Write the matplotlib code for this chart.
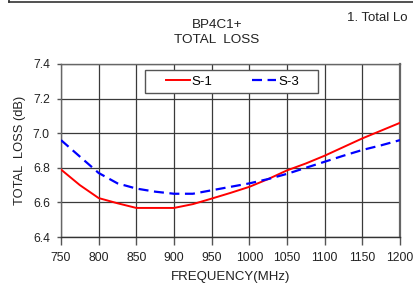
import matplotlib
matplotlib.use("Agg")
import matplotlib.pyplot as plt
from matplotlib.lines import Line2D
from matplotlib.patches import Rectangle

plt.rcParams['font.family'] = ['Liberation Sans', 'DejaVu Sans']

freq = [750, 775, 800, 825, 850, 875, 900, 925, 950, 975, 1000, 1025, 1050, 1075, 1100, 1125, 1150, 1175, 1200]
s1 = [6.79, 6.70, 6.625, 6.595, 6.568, 6.568, 6.568, 6.59, 6.622, 6.655, 6.69, 6.735, 6.785, 6.825, 6.87, 6.92, 6.97, 7.015, 7.06]
s3 = [6.96, 6.865, 6.77, 6.71, 6.68, 6.662, 6.65, 6.65, 6.67, 6.69, 6.71, 6.735, 6.765, 6.80, 6.835, 6.87, 6.903, 6.93, 6.96]
xticks = [750, 800, 850, 900, 950, 1000, 1050, 1100, 1150, 1200]
yticks = [6.4, 6.6, 6.8, 7.0, 7.2, 7.4]

fig = plt.figure(figsize=(4.13, 2.85), dpi=100)
W, H = 413, 285
ax = fig.add_axes([61/W, (H-237)/H, (400-61)/W, (237-64)/H])

ax.plot(freq, s1, color='#ff0000', lw=1.4, label='S-1', zorder=3)
ax.plot(freq, s3, color='#0000ff', lw=1.6, ls=(0, (4.5, 2.5)), label='S-3', zorder=3)

ax.set_xlim(750, 1200)
ax.set_ylim(6.4, 7.4)
ax.set_xticks(xticks)
ax.set_xticklabels([str(v) for v in xticks])
ax.set_yticks(yticks)
ax.set_yticklabels([f"{v:.1f}" for v in yticks])
ax.grid(True, color='#3a3a3a', lw=0.9)
ax.set_axisbelow(True)
for s in ax.spines.values():
    s.set_color('#666666')
    s.set_linewidth(1.0)
ax.spines['bottom'].set_color('#333333')
ax.spines['right'].set_linewidth(1.6)
ax.tick_params(direction='out', width=1, color='#555555', labelsize=8.7, labelcolor='#222222')
ax.tick_params(axis='x', length=6, pad=5)
ax.tick_params(axis='y', length=3, pad=5)

ax.set_xlabel('FREQUENCY(MHz)', fontsize=9.5, color='#222222', labelpad=5)
ax.set_ylabel('TOTAL  LOSS (dB)', fontsize=9.3, color='#222222', labelpad=5)

# legend frame
ax.add_patch(Rectangle(((145-61)/339, (237-93)/173), 173/339, 23/173, transform=ax.transAxes,
                       facecolor='white', edgecolor='#555555', lw=1.0, zorder=4))
leg = ax.legend(loc='center', ncol=2, bbox_to_anchor=((232.5-61)/339, (237-81.5)/173), fontsize=9.5,
                frameon=False, handlelength=1.8, columnspacing=3.0, borderpad=0.2, handletextpad=0.15)
leg.set_zorder(5)

fig.text(217/W, 1-25/H, 'BP4C1+', ha='center', va='center', fontsize=9.7, color='#222222')
fig.text(217/W, 1-40/H, 'TOTAL  LOSS', ha='center', va='center', fontsize=9.7, color='#222222')
fig.text(347/W, 1-18/H, '1. Total Lo', ha='left', va='center', fontsize=9.5, color='#222222')

fig.add_artist(Line2D([9/W, 1], [1-2/H, 1-2/H], color='#333333', lw=1.2, transform=fig.transFigure))
fig.add_artist(Line2D([9/W, 9/W], [1, 1-2/H], color='#333333', lw=1.2, transform=fig.transFigure))

fig.savefig('out.png', dpi=100)
